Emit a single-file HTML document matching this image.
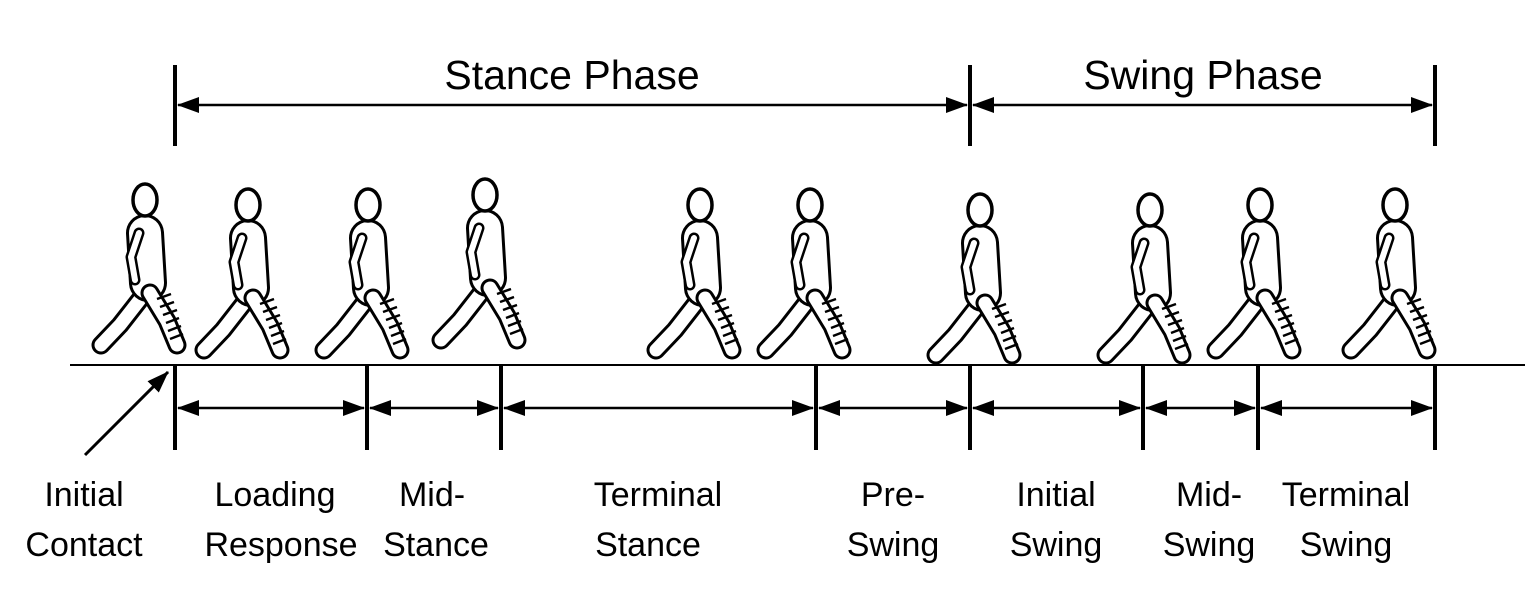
<!DOCTYPE html>
<html><head><style>
body{margin:0;background:#fff;}
svg{display:block}
text{font-family:"Liberation Sans",sans-serif;fill:#000}
.o{stroke:#000;fill:none;stroke-linecap:round;stroke-linejoin:round}
.i{stroke:#fff;fill:none;stroke-linecap:round;stroke-linejoin:round}
</style></head><body>
<svg width="1533" height="603" viewBox="0 0 1533 603">
<defs>
<marker id="a" markerWidth="22" markerHeight="16" refX="21" refY="8" orient="auto-start-reverse" markerUnits="userSpaceOnUse" viewBox="0 0 22 16"><path d="M0,0 L22,8 L0,16 z" fill="#000"/></marker>
<g id="fig">
 <path class="o" stroke-width="19" d="M0,298 L-25,330 L-44,350"/>
 <path class="i" stroke-width="13" d="M0,298 L-25,330 L-44,350"/>
 <path class="o" stroke-width="38" d="M0,238 L3,288"/>
 <path class="i" stroke-width="32" d="M0,238 L3,288"/>
 <path class="o" stroke-width="19" d="M5,298 L22,326 L32,350"/>
 <path class="i" stroke-width="13" d="M5,298 L22,326 L32,350"/>
 <path stroke="#000" stroke-width="2.5" d="M12,304 l14,-5 M15,312 l14,-5 M18,320 l14,-5 M21,328 l13,-5 M23,336 l13,-5 M25,344 l13,-5"/>
 <path class="o" stroke-width="11" d="M-6,238 L-14,262 L-10,285"/>
 <path class="i" stroke-width="6" d="M-6,238 L-14,262 L-10,285"/>
 <ellipse cx="0" cy="205" rx="12" ry="16" fill="#fff" stroke="#000" stroke-width="3.5"/>
</g>
</defs>
<g stroke="#000" stroke-width="4">
<line x1="175" y1="65" x2="175" y2="146"/>
<line x1="970" y1="65" x2="970" y2="146"/>
<line x1="1435" y1="65" x2="1435" y2="146"/>
</g>
<g stroke="#000" stroke-width="2.5">
<line x1="178" y1="105" x2="967" y2="105" marker-start="url(#a)" marker-end="url(#a)"/>
<line x1="973" y1="105" x2="1432" y2="105" marker-start="url(#a)" marker-end="url(#a)"/>
</g>
<text x="572" y="89" font-size="41" text-anchor="middle">Stance Phase</text>
<text x="1203" y="89" font-size="41" text-anchor="middle">Swing Phase</text>
<use href="#fig" x="145" y="-5"/>
<use href="#fig" x="248" y="0"/>
<use href="#fig" x="368" y="0"/>
<use href="#fig" x="485" y="-10"/>
<use href="#fig" x="700" y="0"/>
<use href="#fig" x="810" y="0"/>
<use href="#fig" x="980" y="5"/>
<use href="#fig" x="1150" y="5"/>
<use href="#fig" x="1260" y="0"/>
<use href="#fig" x="1395" y="0"/>
<line x1="70" y1="365" x2="1525" y2="365" stroke="#000" stroke-width="2"/>
<g stroke="#000" stroke-width="4">
<line x1="175" y1="365" x2="175" y2="450"/>
<line x1="367" y1="365" x2="367" y2="450"/>
<line x1="501" y1="365" x2="501" y2="450"/>
<line x1="816" y1="365" x2="816" y2="450"/>
<line x1="970" y1="365" x2="970" y2="450"/>
<line x1="1143" y1="365" x2="1143" y2="450"/>
<line x1="1258" y1="365" x2="1258" y2="450"/>
<line x1="1435" y1="365" x2="1435" y2="450"/>
</g>
<g stroke="#000" stroke-width="2.5">
<line x1="178" y1="408" x2="364" y2="408" marker-start="url(#a)" marker-end="url(#a)"/>
<line x1="370" y1="408" x2="498" y2="408" marker-start="url(#a)" marker-end="url(#a)"/>
<line x1="504" y1="408" x2="813" y2="408" marker-start="url(#a)" marker-end="url(#a)"/>
<line x1="819" y1="408" x2="967" y2="408" marker-start="url(#a)" marker-end="url(#a)"/>
<line x1="973" y1="408" x2="1140" y2="408" marker-start="url(#a)" marker-end="url(#a)"/>
<line x1="1146" y1="408" x2="1255" y2="408" marker-start="url(#a)" marker-end="url(#a)"/>
<line x1="1261" y1="408" x2="1432" y2="408" marker-start="url(#a)" marker-end="url(#a)"/>
<line x1="85" y1="455" x2="168" y2="372" stroke-width="3" marker-end="url(#a)"/>
</g>
<g font-size="34" text-anchor="middle">
<text x="84" y="506">Initial</text><text x="84" y="556">Contact</text>
<text x="275" y="506">Loading</text><text x="281" y="556">Response</text>
<text x="432" y="506">Mid-</text><text x="436" y="556">Stance</text>
<text x="658" y="506">Terminal</text><text x="648" y="556">Stance</text>
<text x="893" y="506">Pre-</text><text x="893" y="556">Swing</text>
<text x="1056" y="506">Initial</text><text x="1056" y="556">Swing</text>
<text x="1209" y="506">Mid-</text><text x="1209" y="556">Swing</text>
<text x="1346" y="506">Terminal</text><text x="1346" y="556">Swing</text>
</g>
</svg>
</body></html>
